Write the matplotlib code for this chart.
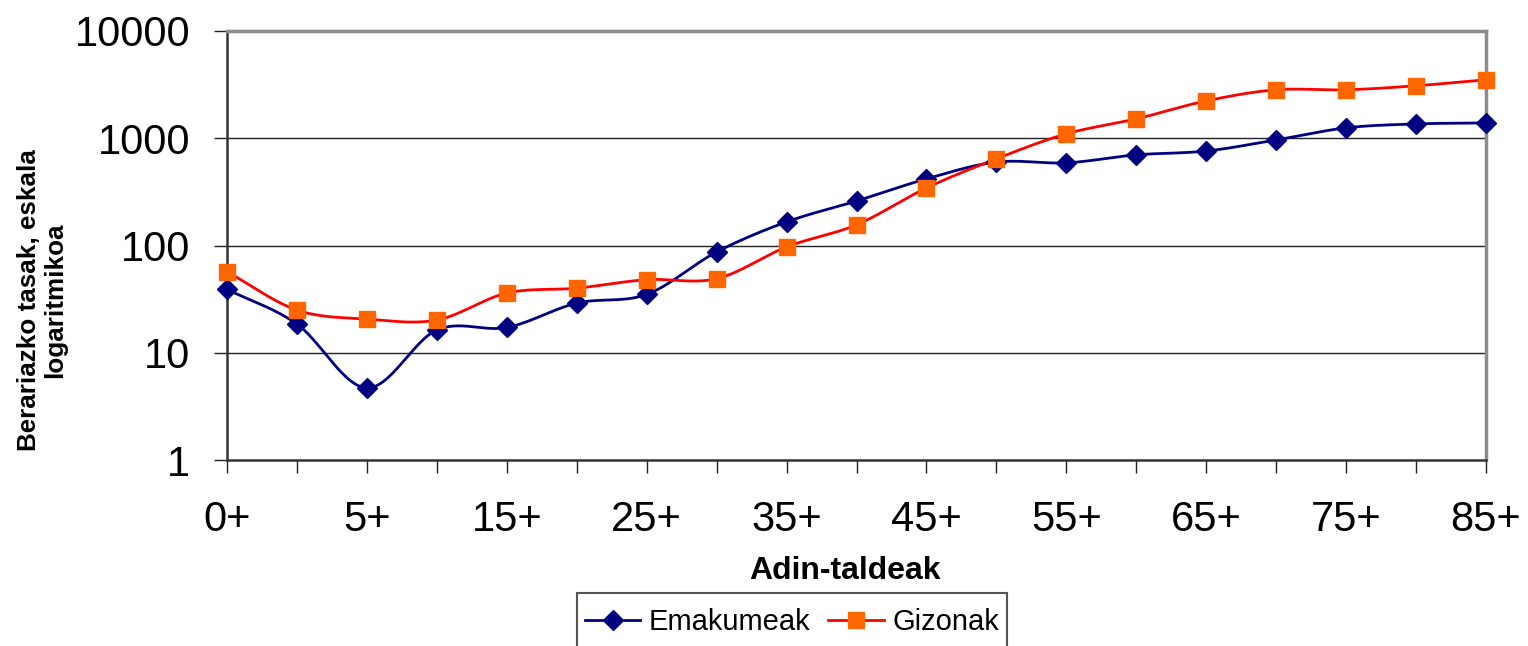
import numpy as np
import matplotlib
matplotlib.use('Agg')
import matplotlib.pyplot as plt
from matplotlib.patches import Rectangle
from matplotlib.ticker import FixedLocator, FixedFormatter, NullLocator

plt.rcParams['font.family'] = ['Liberation Sans', 'DejaVu Sans']

# age groups (every other label is shown on the axis)
groups = ["0+", "1+", "5+", "10+", "15+", "20+", "25+", "30+", "35+", "40+",
          "45+", "50+", "55+", "60+", "65+", "70+", "75+", "80+", "85+"]
emakumeak = [39, 18.5, 4.7, 16.3, 17.2, 29, 35, 87, 166, 260,
             418, 600, 590, 700, 760, 965, 1250, 1360, 1390]
gizonak = [57, 25, 20.6, 20.2, 36, 40, 48, 49, 97, 156,
           344, 643, 1100, 1515, 2230, 2830, 2830, 3085, 3510]
yticks = [1, 10, 100, 1000, 10000]


def smooth(vals, n=30):
    # catmull-rom through the points in log space, like the spreadsheet smoothing
    x = np.arange(len(vals), dtype=float)
    y = np.log10(np.array(vals, dtype=float))
    px = np.concatenate([[2 * x[0] - x[1]], x, [2 * x[-1] - x[-2]]])
    py = np.concatenate([[2 * y[0] - y[1]], y, [2 * y[-1] - y[-2]]])
    xs, ys = [], []
    t = np.linspace(0, 1, n, endpoint=False)
    for i in range(1, len(px) - 2):
        for arr, out in ((px, xs), (py, ys)):
            p0, p1, p2, p3 = arr[i - 1], arr[i], arr[i + 1], arr[i + 2]
            c1 = p1 + (p2 - p0) / 6
            c2 = p2 - (p3 - p1) / 6
            out.extend((1 - t) ** 3 * p1 + 3 * (1 - t) ** 2 * t * c1
                       + 3 * (1 - t) * t ** 2 * c2 + t ** 3 * p2)
    xs.append(x[-1])
    ys.append(y[-1])
    return np.array(xs), 10 ** np.array(ys)


fig = plt.figure(figsize=(15.28, 6.46), dpi=100)
ax = fig.add_axes([227 / 1528, 1 - 460 / 646, (1486 - 227) / 1528, (460 - 31) / 646])

idx = np.arange(len(groups))
xe, ye = smooth(emakumeak)
xg, yg = smooth(gizonak)

ax.plot(xe, ye, color='#000080', lw=2.0, zorder=3)
ax.plot(idx, emakumeak, ls='none', marker='D', ms=10, color='#000080', zorder=4, clip_on=False)
ax.plot(xg, yg, color='#ff0000', lw=2.0, zorder=3)
ax.plot(idx, gizonak, ls='none', marker='s', ms=11, color='#ff6600', zorder=5, clip_on=False)

# legend handles
ax.plot([], [], color='#000080', lw=2.0, marker='D', ms=10, label='Emakumeak')
ax.plot([], [], color='#ff0000', lw=2.0, marker='s', ms=11, mfc='#ff6600', mec='#ff6600', label='Gizonak')

ax.set_yscale('log')
ax.set_ylim(1, 10000)
ax.set_xlim(0, len(groups) - 1)
ax.yaxis.set_major_locator(FixedLocator(yticks))
ax.yaxis.set_major_formatter(FixedFormatter([str(v) for v in yticks]))
ax.yaxis.set_minor_locator(NullLocator())
ax.set_xticks(idx)
ax.set_xticklabels([g if i % 2 == 0 else '' for i, g in enumerate(groups)])

for v in yticks[1:-1]:
    ax.axhline(v, color='#222222', lw=1.0, zorder=1)

ax.tick_params(axis='both', direction='out', length=9.5, width=1.0, color='#222222', labelsize=30)
ax.tick_params(axis='x', pad=19)
ax.tick_params(axis='y', pad=17)
ax.spines['left'].set_color('#333333')
ax.spines['bottom'].set_color('#333333')
ax.spines['left'].set_linewidth(1.8)
ax.spines['bottom'].set_linewidth(1.8)
ax.spines['top'].set_color('#8c8c8c')
ax.spines['right'].set_color('#8c8c8c')
ax.spines['top'].set_linewidth(2.5)
ax.spines['right'].set_linewidth(2.5)

fig.text(845 / 1528, 1 - 571 / 646, 'Adin-taldeak', ha='center', va='center',
         fontsize=23, fontweight='bold')
fig.text(42 / 1528, 1 - 300 / 646, 'Berariazko tasak, eskala\nlogaritmikoa', ha='center',
         va='center', rotation=90, fontsize=18.7, fontweight='bold', multialignment='center',
         linespacing=1.1)

# legend box runs past the bottom edge of the picture
fig.patches.append(Rectangle((577 / 1528, -0.05), (1007 - 577) / 1528, 0.05 + 1 - 593 / 646,
                             transform=fig.transFigure, fill=False, edgecolor='#555555',
                             lw=1.5))
leg = fig.legend(loc='center', bbox_to_anchor=(792 / 1528, 1 - 622 / 646), ncol=2,
                 fontsize=21, frameon=False,
                 handlelength=1.9, handletextpad=0.3, columnspacing=0.6, borderpad=0.4,
                 borderaxespad=0)

fig.savefig('out.png', dpi=100)
